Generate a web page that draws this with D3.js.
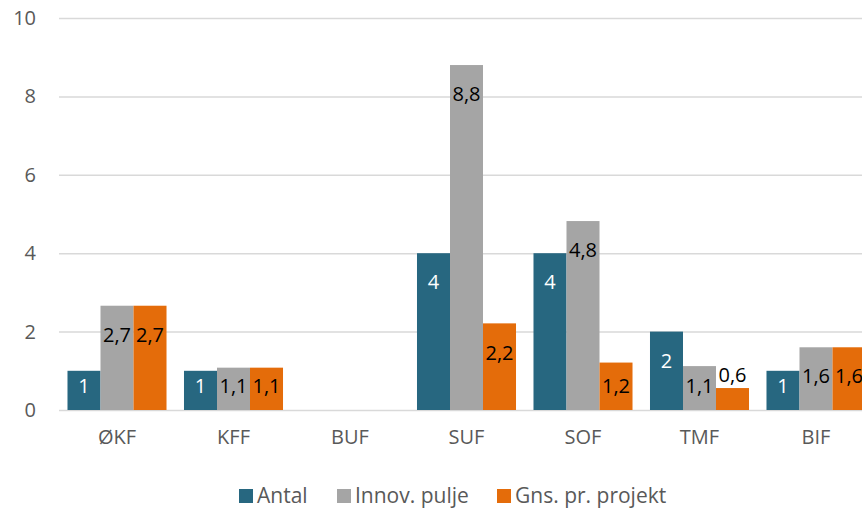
<!DOCTYPE html>
<html>
<head>
<meta charset="utf-8">
<script src="https://cdn.jsdelivr.net/npm/d3@7"></script>
<style>
  html, body { margin: 0; padding: 0; background: #fff; }
  svg { display: block; font-family: "Open Sans", sans-serif; }
</style>
</head>
<body>
<svg id="chart" width="862" height="508"></svg>
<script>
// Categories (departments) and the three series
const categories = ["ØKF", "KFF", "BUF", "SUF", "SOF", "TMF", "BIF"];
const antal      = [1, 1, null, 4, 4, 2, 1];
const innovPulje = [2.66, 1.08, null, 8.8, 4.82, 1.12, 1.6];
const gnsProjekt = [2.66, 1.08, null, 2.21, 1.21, 0.56, 1.6];
const seriesNames = ["Antal", "Innov. pulje", "Gns. pr. projekt"];
const seriesColors = ["#276780", "#a5a5a5", "#e46c0a"];
const labelColors = ["#ffffff", "#000000", "#000000"];
const yTicks = [0, 2, 4, 6, 8, 10];

const series = [antal, innovPulje, gnsProjekt];

const svg = d3.select("#chart");

const x = d3.scaleBand()
  .domain(categories)
  .range([58.75, 874.25])
  .paddingInner(0.15)
  .paddingOuter(0.075);

const xs = d3.scaleBand()
  .domain(d3.range(series.length))
  .range([0, x.bandwidth()])
  .padding(0);

const y = d3.scaleLinear().domain([0, 10]).range([410, 18]);

const locale = d3.formatLocale({ decimal: ",", thousands: ".", grouping: [3], currency: ["", " kr."] });
const fmt1 = locale.format(".1f");
const fmtLabel = v => Number.isInteger(v) ? String(v) : fmt1(v);

// Gridlines
const grid = svg.append("g")
  .attr("transform", "translate(59,0)")
  .call(d3.axisLeft(y).tickValues(yTicks).tickSize(-815).tickFormat(""));
grid.select(".domain").remove();
grid.selectAll(".tick line").attr("stroke", "#d9d9d9").attr("stroke-width", 1.5);

// Y tick labels
const yAxis = svg.append("g")
  .attr("transform", "translate(36,0)")
  .call(d3.axisLeft(y).tickValues(yTicks).tickSize(0).tickPadding(0).tickFormat(d3.format("d")));
yAxis.select(".domain").remove();
yAxis.selectAll("text")
  .attr("fill", "#595959")
  .style("font-size", "20px")
  .style("font-family", "'Open Sans', sans-serif");

// X axis labels
const xAxis = svg.append("g")
  .attr("transform", "translate(0,430)")
  .call(d3.axisBottom(x).tickSize(0).tickPadding(0));
xAxis.select(".domain").remove();
xAxis.selectAll("text")
  .attr("fill", "#595959")
  .attr("dy", "0.72em")
  .style("font-size", "20px")
  .style("font-family", "'Open Sans', sans-serif");

// Flattened bar records
const bars = [];
categories.forEach((c, i) => {
  series.forEach((s, j) => {
    if (s[i] != null) bars.push({ cat: c, s: j, v: s[i] });
  });
});

const gBars = svg.append("g");
gBars.selectAll("rect")
  .data(bars)
  .join("rect")
  .attr("x", d => x(d.cat) + xs(d.s))
  .attr("y", d => y(d.v))
  .attr("width", xs.bandwidth())
  .attr("height", d => y(0) - y(d.v))
  .attr("fill", d => seriesColors[d.s]);

// Data labels: inside near the top; above the bar when it is too short
gBars.selectAll("text")
  .data(bars)
  .join("text")
  .attr("x", d => x(d.cat) + xs(d.s) + xs.bandwidth() / 2)
  .attr("y", d => {
    const top = y(d.v), h = y(0) - top;
    if (h < 30) return top - 13;
    return Math.min(top + 29, 386);
  })
  .attr("dy", "0.36em")
  .attr("text-anchor", "middle")
  .attr("fill", d => (y(0) - y(d.v) < 30) ? "#000000" : labelColors[d.s])
  .style("font-size", "20px")
  .text(d => fmtLabel(d.v));

// Legend
const legendItems = [
  { i: 0, sx: 239, tx: 257 },
  { i: 1, sx: 337, tx: 355 },
  { i: 2, sx: 497, tx: 515 }
];
const lg = svg.append("g");
lg.selectAll("rect")
  .data(legendItems)
  .join("rect")
  .attr("x", d => d.sx)
  .attr("y", 489)
  .attr("width", 14)
  .attr("height", 14)
  .attr("fill", d => seriesColors[d.i]);
lg.selectAll("text")
  .data(legendItems)
  .join("text")
  .attr("x", d => d.tx)
  .attr("y", 495)
  .attr("dy", "0.36em")
  .attr("fill", "#595959")
  .style("font-size", "21px")
  .text(d => seriesNames[d.i]);
</script>
</body>
</html>
